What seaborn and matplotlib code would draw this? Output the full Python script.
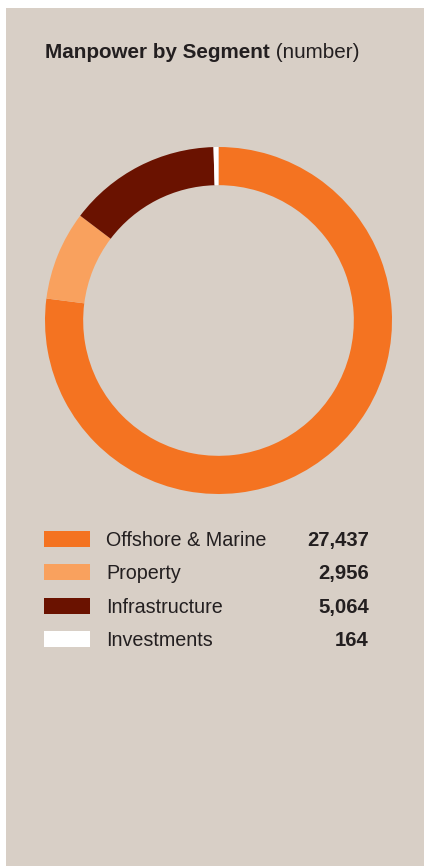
import matplotlib
matplotlib.use("Agg")
import matplotlib.pyplot as plt
from matplotlib.patches import Rectangle
import seaborn as sns

# ---- data ----
segments = ["Offshore & Marine", "Property", "Infrastructure", "Investments"]
manpower = [27437, 2956, 5064, 164]
value_labels = ["27,437", "2,956", "5,064", "164"]
colors = ["#F47321", "#F9A15E", "#6A1200", "#FFFFFF"]
title_bold = "Manpower by Segment"
title_rest = " (number)"

sns.set_theme(style="white")
plt.rcParams["font.family"] = ["Liberation Sans", "DejaVu Sans"]

W, H = 424, 866
fig = plt.figure(figsize=(W / 100, H / 100), dpi=100, facecolor="white")

def fx(px):
    return px / W

def fy(py):
    return 1 - py / H

BG = "#D8CFC6"
TXT = "#231F20"
# panel
fig.patches.append(Rectangle((fx(6), fy(866)), fx(424) - fx(6), fy(8) - fy(866),
                             transform=fig.transFigure, facecolor=BG, edgecolor="none", zorder=-10))

# donut axes
cx, cy, r = 218.5, 320.5, 173.5
ax = fig.add_axes([fx(cx - r), fy(cy + r), (2 * r) / W, (2 * r) / H])
ax.set_zorder(5)
ax.set_facecolor("none")
ax.pie(manpower, colors=colors, startangle=90, counterclock=False, radius=1.0,
       wedgeprops=dict(width=0.22, linewidth=0, edgecolor="none", antialiased=True))
ax.set_xlim(-1, 1)
ax.set_ylim(-1, 1)
ax.set_aspect("auto")
ax.axis("off")

# title
t = fig.text(fx(45), fy(58), title_bold, fontsize=14.9, fontweight="bold", color=TXT,
             ha="left", va="baseline")
fig.canvas.draw()
bb = t.get_window_extent()
fig.text(bb.x1 / W, fy(58), title_rest, fontsize=14.9, color=TXT, ha="left", va="baseline")

# legend
row_centers = [539, 572.3, 605.6, 639]
for seg, val, col, yc in zip(segments, value_labels, colors, row_centers):
    fig.patches.append(Rectangle((fx(44), fy(yc + 8)), fx(90) - fx(44), 16 / H,
                                 transform=fig.transFigure, facecolor=col, edgecolor="none", zorder=2))
    fig.text(fx(106), fy(yc + 7), seg, fontsize=14.2, color=TXT, ha="left", va="baseline")
    fig.text(fx(369), fy(yc + 7), val, fontsize=14.6, fontweight="bold", color=TXT,
             ha="right", va="baseline")

fig.savefig("out.png", dpi=100, facecolor="white")
